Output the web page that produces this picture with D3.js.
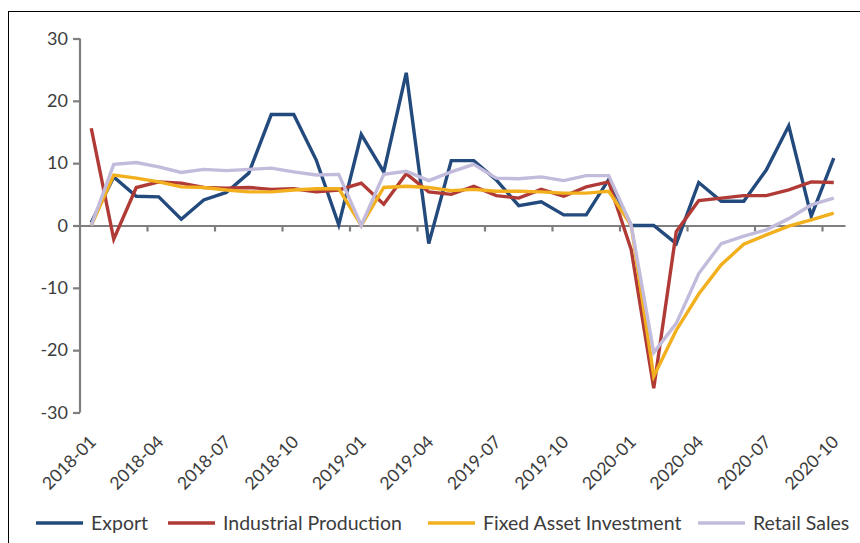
<!DOCTYPE html>
<html>
<head>
<meta charset="utf-8">
<script src="https://cdn.jsdelivr.net/npm/d3@7"></script>
<style>
body{margin:0;background:#fff;}
text{font-family:Lato,"Open Sans",sans-serif;fill:#3c3c3c;}
</style>
</head>
<body>
<div id="chart"></div>
<script>
var months=[
  "2018-01","2018-02","2018-03","2018-04","2018-05","2018-06","2018-07","2018-08","2018-09","2018-10","2018-11","2018-12",
  "2019-01","2019-02","2019-03","2019-04","2019-05","2019-06","2019-07","2019-08","2019-09","2019-10","2019-11","2019-12",
  "2020-01","2020-02","2020-03","2020-04","2020-05","2020-06","2020-07","2020-08","2020-09","2020-10"
];
var exportVals=[
  0.5,7.8,4.7,4.6,1.0,4.1,5.3,8.4,17.8,17.8,10.5,0.1,
  14.6,8.6,24.5,-2.9,10.4,10.4,7.3,3.2,3.8,1.7,1.7,7.4,
  0,0,-2.9,6.9,3.9,3.9,8.9,16.0,1.5,10.8
];
var industrialVals=[
  15.6,-2.2,6.1,7.0,6.8,6.1,6.0,6.1,5.8,5.9,5.4,5.7,
  6.8,3.4,8.3,5.4,5.0,6.3,4.8,4.4,5.8,4.7,6.2,7.0,
  -3.9,-26.1,-1.0,4.0,4.4,4.8,4.8,5.7,7.0,6.9
];
var fixedVals=[
  0,8.1,7.6,7.0,6.2,6.1,5.7,5.4,5.4,5.7,5.9,5.9,
  0,6.1,6.3,6.1,5.6,5.8,5.5,5.5,5.4,5.2,5.2,5.5,
  0,-24.2,-16.8,-11.0,-6.3,-3.0,-1.5,-0.1,0.9,2.0
];
var retailVals=[
  0,9.8,10.1,9.4,8.5,9.0,8.8,9.0,9.2,8.6,8.1,8.2,
  0,8.2,8.7,7.2,8.6,9.8,7.6,7.5,7.8,7.2,8.0,8.0,
  0,-20.4,-15.7,-7.7,-2.9,-1.7,-0.7,1.1,3.3,4.4
];
var yTicks=[-30,-20,-10,0,10,20,30];
var seriesNames=["Export","Industrial Production","Fixed Asset Investment","Retail Sales"];
var seriesColors=["#234a7c","#b03a35","#f2b01e","#c3bbdc"];

var wide=860;
var high=543;
var svg=d3
  .select("#chart")
  .append("svg")
  .attr("width",wide)
  .attr("height",high);

svg.append("rect")
  .attr("x",8.5)
  .attr("y",11.5)
  .attr("width",wide)
  .attr("height",high)
  .attr("fill","none")
  .attr("stroke","#000")
  .attr("stroke-width",1);

var xscale=d3
  .scaleBand()
  .domain(months)
  .range([80,845]);
var yscale=d3
  .scaleLinear()
  .domain([-30,30])
  .range([412.5,38.5]);
var half=xscale.bandwidth()/2;

// y axis
var yaxis=d3.axisLeft(yscale)
  .tickValues(yTicks)
  .tickSize(7)
  .tickPadding(5)
  .tickFormat(function(d){return String(d);});
var yg=svg.append("g")
  .attr("class","yAxis")
  .attr("transform","translate(80,0)")
  .call(yaxis);
yg.selectAll("path,line").attr("stroke","#7f7f7f").attr("stroke-width",2.2);
yg.select(".domain").attr("d","M0,"+yscale(-30)+"V"+yscale(30));
yg.selectAll("text")
  .attr("font-size",18)
  .attr("fill","#3c3c3c")
  .style("font-family","Lato,'Open Sans',sans-serif");

// x axis along zero
var tickMonths=months.filter(function(d,i){return i%3===0;});
var xaxis=d3.axisBottom(xscale)
  .tickValues(tickMonths.slice(1))
  .tickSize(6)
  .tickSizeOuter(0)
  .tickFormat("");
var xg=svg.append("g")
  .attr("class","xAxis")
  .attr("transform","translate(0,"+yscale(0)+")")
  .call(xaxis);
xg.selectAll(".tick").attr("transform",function(d){
  return "translate("+xscale(d)+",0)";
});
xg.selectAll("path,line").attr("stroke","#7f7f7f").attr("stroke-width",2.2);

// month labels at the bottom
svg.append("g")
  .selectAll("text")
  .data(tickMonths)
  .enter()
  .append("text")
  .attr("text-anchor","end")
  .attr("font-size",17.5)
  .attr("transform",function(d){
    return "translate("+(xscale(d)+half+6)+",443)rotate(-45)";
  })
  .text(function(d){return d;});

// lines
var allVals=[exportVals,industrialVals,fixedVals,retailVals];
var line=d3.line()
  .x(function(d,i){return xscale(months[i])+half;})
  .y(function(d){return yscale(d);});
svg.append("g")
  .selectAll("path")
  .data(allVals)
  .enter()
  .append("path")
  .attr("d",line)
  .attr("fill","none")
  .attr("stroke",function(d,i){return seriesColors[i];})
  .attr("stroke-width",3.4)
  .attr("stroke-linejoin","miter");

// legend
var legendX=[36,168,428,698];
var lg=svg.append("g").attr("class","legend");
seriesNames.forEach(function(name,i){
  lg.append("line")
    .attr("x1",legendX[i])
    .attr("x2",legendX[i]+47)
    .attr("y1",523)
    .attr("y2",523)
    .attr("stroke",seriesColors[i])
    .attr("stroke-width",3.5);
  lg.append("text")
    .attr("x",legendX[i]+55)
    .attr("y",530)
    .attr("font-size",19.5)
    .text(name);
});
</script>
</body>
</html>
